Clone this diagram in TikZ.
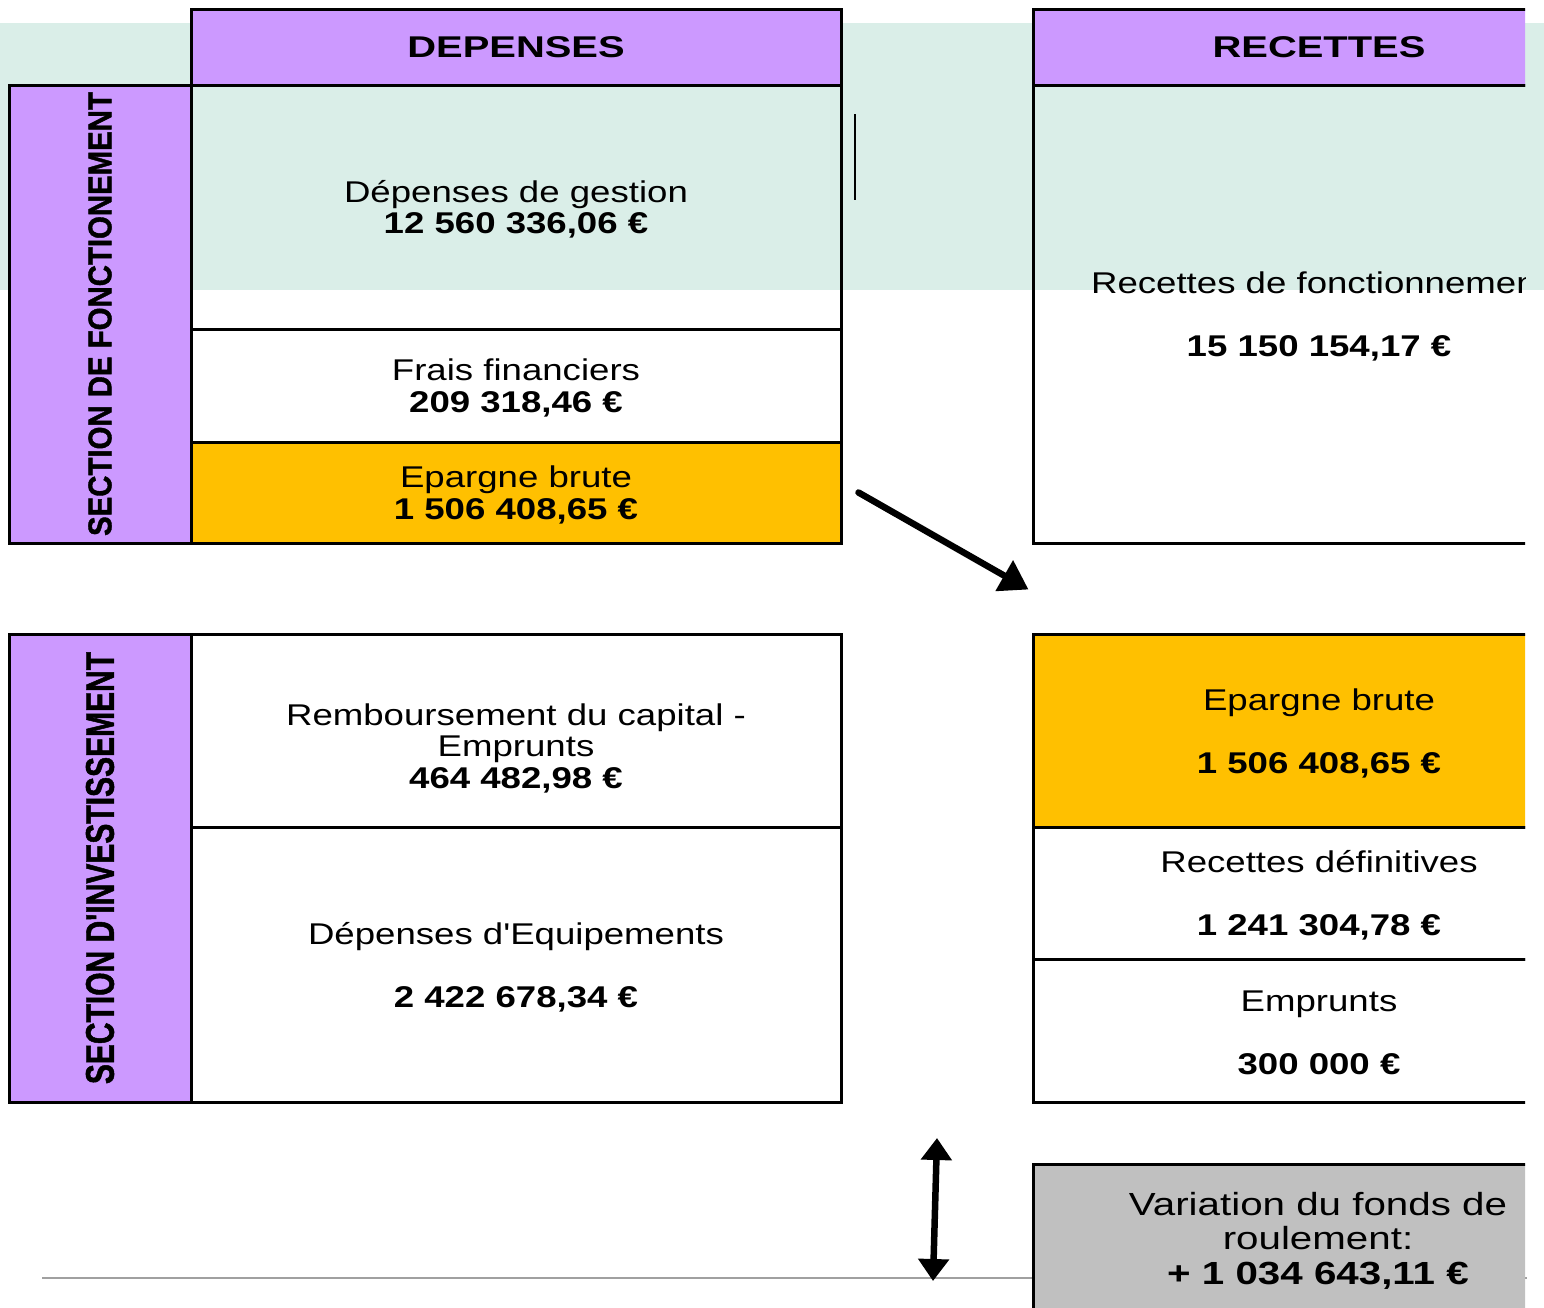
\documentclass[tikz,border=0pt]{standalone}
\usepackage{fontspec}
\setmainfont{Liberation Sans}
\newfontfamily\cellfont[FakeStretch=1.22]{Liberation Sans}
\newfontfamily\headfont[FakeStretch=1.33]{Liberation Sans}
\newfontfamily\varfont[FakeStretch=1.26]{Liberation Sans}
\newfontfamily\sidefont[FakeStretch=0.89,FakeBold=1.2]{Liberation Sans}
\newfontfamily\sidefontb[FakeStretch=0.75,FakeBold=1.2]{Liberation Sans}
\usetikzlibrary{arrows.meta}
\definecolor{mauve}{HTML}{CC99FF}
\definecolor{ambre}{HTML}{FFC000}
\definecolor{bande}{HTML}{DAEEE8}
\definecolor{grisbox}{HTML}{C0C0C0}
\definecolor{trait}{HTML}{A0A0A0}
\begin{document}
\begin{tikzpicture}[x=1pt,y=-1pt,
    box/.style={draw,line width=3pt,inner sep=0pt},
    txt/.style={align=center,inner sep=0pt,font=\cellfont\fontsize{30}{31.5}\selectfont},
    head/.style={box,fill=mauve,font=\headfont\bfseries\fontsize{30}{36}\selectfont},
    side/.style={box,fill=mauve,rotate=90,minimum height=182pt},
    fleche/.style={line width=6.5pt,line cap=round,-{Triangle[length=28pt,width=34pt]}},
    dfleche/.style={line width=6.5pt,{Triangle[length=22pt,width=30pt]}-{Triangle[length=22pt,width=30pt]}}]
  \useasboundingbox (0,0) rectangle (1544,1307);
  % bande de fond
  \fill[bande] (0,23) rectangle (1544,290);
  % section de fonctionnement
  \node[head,minimum width=650pt,minimum height=76pt] (dep) at (516,47) {DEPENSES};
  \node[side,minimum width=458pt,font=\sidefont\bfseries\fontsize{33}{40}\selectfont]
    (fonct) at (100,314) {SECTION DE FONCTIONEMENT};
  \node[box,minimum width=650pt,minimum height=244pt] (gestion) at (516,207) {};
  \node[txt] (gestiontxt) at ([yshift=-2.5pt]gestion.center)
    {Dépenses de gestion\\\textbf{12 560 336,06 €}};
  \node[box,minimum width=650pt,minimum height=113pt] (frais) at (516,385.5) {};
  \node[txt] (fraistxt) at ([yshift=-2.5pt]frais.center)
    {Frais financiers\\\textbf{209 318,46 €}};
  \node[box,fill=ambre,minimum width=650pt,minimum height=101pt] (epd) at (516,492.5) {};
  \node[txt] (epdtxt) at ([yshift=-2.5pt]epd.center)
    {Epargne brute\\\textbf{1 506 408,65 €}};
  \coordinate (m1) at (855,114);
  \coordinate (m2) at (855,200);
  \draw[line width=1.5pt] (m1) -- (m2);
  % section d'investissement
  \node[side,minimum width=468pt,font=\sidefontb\bfseries\fontsize{40}{48}\selectfont]
    (invest) at (100,868) {SECTION D'INVESTISSEMENT};
  \node[box,minimum width=650pt,minimum height=193pt] (remb) at (516,730.5) {};
  \node[txt] (rembtxt) at ([yshift=-17.5pt]remb.center)
    {Remboursement du capital -\\Emprunts\\\textbf{464 482,98 €}};
  \node[box,minimum width=650pt,minimum height=275pt] (equip) at (516,964.5) {};
  \node[txt] (equiptxt) at ([yshift=-2.5pt]equip.center)
    {Dépenses d'Equipements\\[31.5pt]\textbf{2 422 678,34 €}};
  % colonne des recettes
  \coordinate (l1) at (42,1278);
  \coordinate (l2) at (1527,1278);
  \draw[trait,line width=2pt] (l1) -- (l2);
  \begin{scope}
    \clip (1020,0) rectangle (1525,1307);
    \node[head,minimum width=572pt,minimum height=76pt] (rec) at (1319,47) {RECETTES};
    \node[box,minimum width=572pt,minimum height=458pt] (recf) at (1319,314) {};
    \node[txt] (recftxt) at ([yshift=-2.5pt]recf.center)
      {Recettes de fonctionnement\\[31.5pt]\textbf{15 150 154,17 €}};
    \node[box,fill=ambre,minimum width=572pt,minimum height=193pt] (epr) at (1319,730.5) {};
    \node[txt] (eprtxt) at ([yshift=-2.5pt]epr.center)
      {Epargne brute\\[31.5pt]\textbf{1 506 408,65 €}};
    \node[box,minimum width=572pt,minimum height=132pt] (recdef) at (1319,893) {};
    \node[txt] (recdeftxt) at ([yshift=-2.5pt]recdef.center)
      {Recettes définitives\\[31.5pt]\textbf{1 241 304,78 €}};
    \node[box,minimum width=572pt,minimum height=143pt] (empr) at (1319,1030.5) {};
    \node[txt] (emprtxt) at ([yshift=-2pt]empr.center)
      {Emprunts\\[31.5pt]\textbf{300 000 €}};
    \node[box,fill=grisbox,minimum width=572pt,minimum height=147pt] (var) at (1319,1237.5) {};
    \node[txt,font=\varfont\fontsize{32}{34.5}\selectfont] (vartxt) at ([xshift=-1pt,yshift=-3pt]var.center)
      {Variation du fonds de\\roulement:\\\textbf{+ 1 034 643,11 €}};
  \end{scope}
  % fleches
  \coordinate (a1) at ([xshift=16pt]epd.east);
  \coordinate (a2) at ([xshift=-3pt,yshift=43pt]epr.north west);
  \draw[fleche] (a1) -- (a2);
  \coordinate (b1) at (937,1138);
  \coordinate (b2) at (933,1281);
  \draw[dfleche] (b1) -- (b2);
\end{tikzpicture}
\end{document}
